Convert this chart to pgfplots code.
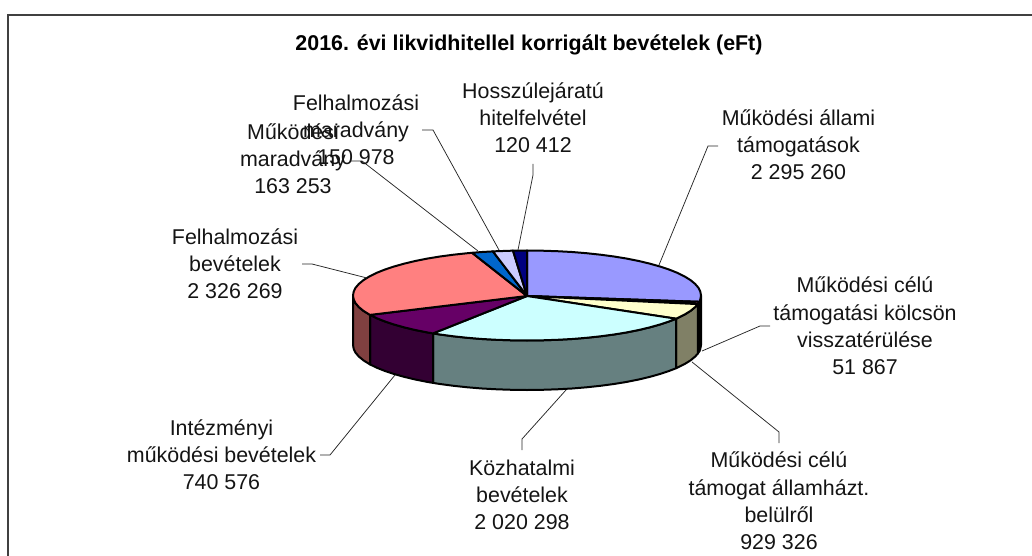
\documentclass[border=0pt]{standalone}
\usepackage{pgfplots}
\pgfplotsset{compat=1.18}
\usepackage{fontspec}
\setmainfont{Liberation Sans}
\definecolor{c1}{HTML}{9999FF}\definecolor{c1d}{HTML}{4D4D80}
\definecolor{c2}{HTML}{993366}\definecolor{c2d}{HTML}{4D1A33}
\definecolor{c3}{HTML}{FFFFCC}\definecolor{c3d}{HTML}{808066}
\definecolor{c4}{HTML}{CCFFFF}\definecolor{c4d}{HTML}{668080}
\definecolor{c5}{HTML}{660066}\definecolor{c5d}{HTML}{330033}
\definecolor{c6}{HTML}{FF8080}\definecolor{c6d}{HTML}{804040}
\definecolor{c7}{HTML}{0066CC}
\definecolor{c8}{HTML}{CCCCFF}
\definecolor{c9}{HTML}{000080}
\tikzset{
  pie/.style={draw=black,line width=2pt,line join=round},
  lead/.style={draw=black!85,line width=0.75pt,line join=miter},
  lab/.style={align=center,font=\fontsize{21.4}{27.2}\selectfont,text=black!92,inner sep=0pt},
}
\begin{document}
\begin{tikzpicture}[x=1pt,y=1pt]
\useasboundingbox (0,0) rectangle (1032,556);
\begin{axis}[
  at={(0,0)},anchor=south west,
  scale only axis,width=1032pt,height=556pt,
  xmin=0,xmax=1032,ymin=0,ymax=556,y dir=reverse,
  axis lines=none,clip=false,
  every axis plot/.append style={no markers},
]
% frame
\addplot[draw=black!75,line width=1.5pt] coordinates {(8,556) (8,15) (1032,15)};

% side walls
\addplot[pie,fill=c1d] coordinates {(701,295.5)(700.3,299.4)(699.3,301.8)(699.3,351.3)(700.3,348.9)(701,345)} --cycle;
\addplot[pie,fill=c2d] coordinates {(699.3,301.8)(697.8,304.1)(697.8,353.6)(699.3,351.3)} --cycle;
\addplot[pie,fill=c3d] coordinates {(697.8,304.1)(695.1,307.1)(690.5,310.9)(684.7,314.5)(677.7,318)(676.1,318.7)(676.1,368.2)(677.7,367.5)(684.7,364)(690.5,360.4)(695.1,356.6)(697.8,353.6)} --cycle;
\addplot[pie,fill=c4d] coordinates {(676.1,318.7)(669.5,321.3)(660.3,324.4)(650,327.3)(638.8,330)(626.8,332.4)(614,334.5)(600.5,336.3)(586.5,337.8)(572,339)(557.2,339.8)(542.2,340.3)(527,340.5)(511.8,340.3)(496.8,339.8)(482,339)(467.5,337.8)(453.5,336.3)(440,334.5)(433,333.4)(433,382.9)(440,384)(453.5,385.8)(467.5,387.3)(482,388.5)(496.8,389.3)(511.8,389.8)(527,390)(542.2,389.8)(557.2,389.3)(572,388.5)(586.5,387.3)(600.5,385.8)(614,384)(626.8,381.9)(638.8,379.5)(650,376.8)(660.3,373.9)(669.5,370.8)(676.1,368.2)} --cycle;
\addplot[pie,fill=c5d] coordinates {(433,333.4)(427.2,332.4)(415.2,330)(404,327.3)(393.7,324.4)(384.5,321.3)(376.3,318)(370,314.9)(370,364.4)(376.3,367.5)(384.5,370.8)(393.7,373.9)(404,376.8)(415.2,379.5)(427.2,381.9)(433,382.9)} --cycle;
\addplot[pie,fill=c6d] coordinates {(370,314.9)(369.3,314.5)(363.5,310.9)(358.9,307.1)(355.6,303.3)(353.7,299.4)(353,295.5)(353,345)(353.7,348.9)(355.6,352.8)(358.9,356.6)(363.5,360.4)(369.3,364)(370,364.4)} --cycle;

% top surface
\addplot[pie,fill=c1] coordinates {(527,296)(527,250.5)(542.2,250.7)(557.2,251.2)(572,252)(586.5,253.2)(600.5,254.7)(614,256.5)(626.8,258.6)(638.8,261)(650,263.7)(660.3,266.6)(669.5,269.7)(677.7,273)(684.7,276.5)(690.5,280.1)(695.1,283.9)(698.4,287.7)(700.3,291.6)(701,295.5)(700.3,299.4)(699.3,301.8)} --cycle;
\addplot[pie,fill=c2] coordinates {(527,296)(699.3,301.8)(697.8,304.1)} --cycle;
\addplot[pie,fill=c3] coordinates {(527,296)(697.8,304.1)(695.1,307.1)(690.5,310.9)(684.7,314.5)(677.7,318)(676.1,318.7)} --cycle;
\addplot[pie,fill=c4] coordinates {(527,296)(676.1,318.7)(669.5,321.3)(660.3,324.4)(650,327.3)(638.8,330)(626.8,332.4)(614,334.5)(600.5,336.3)(586.5,337.8)(572,339)(557.2,339.8)(542.2,340.3)(527,340.5)(511.8,340.3)(496.8,339.8)(482,339)(467.5,337.8)(453.5,336.3)(440,334.5)(433,333.4)} --cycle;
\addplot[pie,fill=c5] coordinates {(527,296)(433,333.4)(427.2,332.4)(415.2,330)(404,327.3)(393.7,324.4)(384.5,321.3)(376.3,318)(370,314.9)} --cycle;
\addplot[pie,fill=c6] coordinates {(527,296)(370,314.9)(369.3,314.5)(363.5,310.9)(358.9,307.1)(355.6,303.3)(353.7,299.4)(353,295.5)(353.7,291.6)(355.6,287.7)(358.9,283.9)(363.5,280.1)(369.3,276.5)(376.3,273)(384.5,269.7)(393.7,266.6)(404,263.7)(415.2,261)(427.2,258.6)(440,256.5)(453.5,254.7)(467.5,253.2)(472.1,252.8)} --cycle;
\addplot[pie,fill=c7] coordinates {(527,296)(472.1,252.8)(482,252)(492.9,251.4)} --cycle;
\addplot[pie,fill=c8] coordinates {(527,296)(492.9,251.4)(496.8,251.2)(511.8,250.7)(513,250.6)} --cycle;
\addplot[pie,fill=c9] coordinates {(527,296)(513,250.6)(527,250.5)} --cycle;

% leader lines
\addplot[lead] coordinates {(718,146)(708,146)(659,265)};
\addplot[lead] coordinates {(770,326)(760,326)(702,351)};
\addplot[lead] coordinates {(779,443)(779,432)(692,362)};
\addplot[lead] coordinates {(522,450)(522,439)(566,390)};
\addplot[lead] coordinates {(320,455)(330,455)(395,375)};
\addplot[lead] coordinates {(302,264)(312,264)(367,278)};
\addplot[lead] coordinates {(350,161)(362,161)(478,251)};
\addplot[lead] coordinates {(422,130)(433,130)(499,250)};
\addplot[lead] coordinates {(533,164)(533,175)(518,250)};

% texts
\node[align=center,font=\fontsize{21.4}{24}\selectfont\bfseries,text=black,inner sep=0pt] at (axis cs:529,45) {2016. évi likvidhitellel korrigált bevételek (eFt)};
\node[lab] at (axis cs:533,118) {Hosszúlejáratú\\hitelfelvétel\\120 412};
\node[lab] at (axis cs:798.5,145) {Működési állami\\támogatások\\2 295 260};
\node[lab] at (axis cs:865,326) {Működési célú\\támogatási kölcsön\\visszatérülése\\51 867};
\node[lab] at (axis cs:779,501) {Működési célú\\támogat államházt.\\belülről\\929 326};
\node[lab] at (axis cs:522,495) {Közhatalmi\\bevételek\\2 020 298};
\node[lab] at (axis cs:221.5,455) {Intézményi\\működési bevételek\\740 576};
\node[lab] at (axis cs:235,264) {Felhalmozási\\bevételek\\2 326 269};
\node[lab] at (axis cs:293,159) {Működési\\maradvány\\163 253};
\node[lab] at (axis cs:356,130) {Felhalmozási\\maradvány\\150 978};
\end{axis}
\end{tikzpicture}
\end{document}
